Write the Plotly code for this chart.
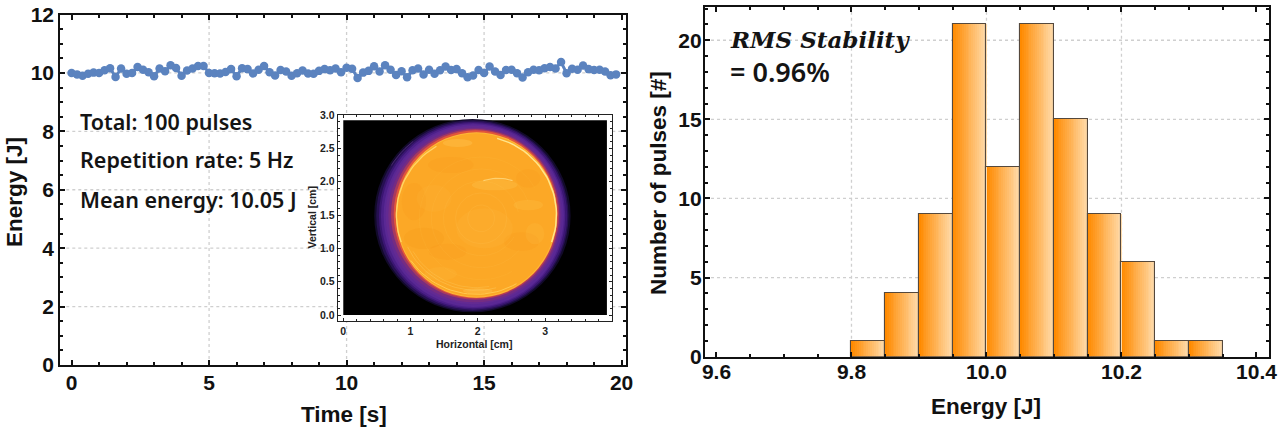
import math
import plotly.graph_objects as go

W, H = 1280, 430

# ---------- data ----------
pulse_time = [round(i * 0.2, 1) for i in range(100)]
pulse_energy = [
    10.00, 9.95, 9.90, 9.97, 10.01, 10.00, 10.09, 10.16, 9.86, 10.15,
    9.97, 10.00, 10.20, 10.11, 10.02, 9.89, 10.15, 10.06, 10.26, 10.17,
    9.90, 10.08, 10.15, 10.24, 10.24, 10.00, 9.99, 9.98, 10.03, 10.13,
    9.89, 10.16, 10.13, 9.98, 10.11, 10.24, 10.02, 9.91, 10.10, 10.05,
    9.90, 9.99, 10.08, 9.98, 9.97, 10.07, 10.13, 10.09, 10.15, 10.02,
    10.18, 10.14, 9.83, 10.01, 10.07, 10.23, 10.05, 10.26, 10.11, 9.93,
    10.06, 9.85, 10.09, 10.15, 9.95, 10.11, 9.97, 10.09, 10.22, 10.10,
    10.13, 9.99, 9.85, 9.91, 10.10, 10.00, 10.22, 10.05, 9.93, 10.10,
    10.11, 9.99, 9.84, 10.02, 10.11, 10.09, 10.16, 10.20, 10.15, 10.37,
    9.99, 10.14, 10.11, 10.25, 10.13, 10.10, 10.11, 10.05, 9.92, 9.95,
]
bin_left = [9.80, 9.85, 9.90, 9.95, 10.00, 10.05, 10.10, 10.15, 10.20, 10.25, 10.30]
bin_count = [1, 4, 9, 21, 12, 21, 15, 9, 6, 1, 1]
bin_width = 0.05

left_x_ticks = [0, 5, 10, 15, 20]
left_y_ticks = [0, 2, 4, 6, 8, 10, 12]
left_x_grid = [5, 10, 15]
left_y_grid = [2, 4, 6, 8, 10]
right_x_ticks = [9.6, 9.8, 10.0, 10.2, 10.4]
right_x_labels = ["9.6", "9.8", "10.0", "10.2", "10.4"]
right_y_ticks = [0, 5, 10, 15, 20]
right_x_grid = [9.8, 10.0, 10.2]
right_y_grid = [5, 10, 15, 20]
inset_x_ticks = [0, 1, 2, 3]
inset_y_ticks = [0.0, 0.5, 1.0, 1.5, 2.0, 2.5, 3.0]
inset_y_labels = ["0.0", "0.5", "1.0", "1.5", "2.0", "2.5", "3.0"]

notes = ["Total: 100 pulses", "Repetition rate: 5 Hz", "Mean energy: 10.05 J"]

# beam picture: (centre x, centre y, radius x, radius y, colour), painted outermost first
beam_layers = [
    (1.92, 1.49, 1.46, 1.45, "#120a2a"),
    (1.92, 1.49, 1.43, 1.43, "#261052"),
    (1.93, 1.49, 1.40, 1.41, "#3a1672"),
    (1.93, 1.49, 1.37, 1.39, "#4c2088"),
    (1.94, 1.49, 1.34, 1.37, "#5a2894"),
    (1.94, 1.50, 1.31, 1.34, "#632a92"),
    (1.95, 1.50, 1.28, 1.31, "#752c82"),
    (1.96, 1.51, 1.25, 1.28, "#a83a5e"),
    (1.97, 1.51, 1.22, 1.26, "#e2553a"),
    (1.98, 1.50, 1.20, 1.24, "#fdb838"),
    (1.98, 1.50, 1.185, 1.225, "#fca826"),
]
# mottling on the beam: (centre x, centre y, radius x, radius y, colour)
beam_blotches = [
    (1.20, 1.15, 0.30, 0.16, "rgba(245,140,20,0.16)"),
    (1.55, 0.95, 0.28, 0.12, "rgba(245,140,20,0.14)"),
    (1.05, 1.70, 0.18, 0.28, "rgba(245,140,20,0.14)"),
    (2.65, 1.10, 0.26, 0.14, "rgba(245,140,20,0.12)"),
    (1.60, 2.25, 0.34, 0.12, "rgba(245,140,20,0.12)"),
    (2.75, 2.05, 0.18, 0.14, "rgba(245,140,20,0.12)"),
    (2.25, 1.95, 0.34, 0.08, "rgba(255,210,100,0.22)"),
    (2.75, 1.65, 0.22, 0.08, "rgba(255,210,100,0.16)"),
    (1.70, 2.58, 0.22, 0.06, "rgba(255,210,100,0.28)"),
    (2.00, 0.36, 0.22, 0.04, "rgba(255,210,100,0.28)"),
    (2.10, 1.30, 0.42, 0.30, "rgba(255,200,80,0.12)"),
    (1.45, 0.62, 0.24, 0.10, "rgba(255,200,80,0.14)"),
    (2.85, 1.22, 0.14, 0.16, "rgba(255,200,80,0.16)"),
    (1.35, 1.75, 0.26, 0.20, "rgba(255,200,80,0.10)"),
]
# thin arcs on the beam: (centre x, centre y, radius, start deg, end deg, colour, width)
beam_arcs = [
    (1.98, 1.50, 1.19, -20, 75, "#ffe58a", 1.5),
    (1.98, 1.50, 1.19, 120, 200, "#ffd668", 1.3),
    (1.98, 1.50, 1.19, 215, 300, "#ffc850", 1.0),
    (1.98, 1.50, 1.13, 205, 285, "rgba(255,225,130,0.45)", 0.6),
    (1.98, 1.50, 1.09, 210, 280, "rgba(255,225,130,0.35)", 0.6),
    (2.05, 1.45, 0.20, 0, 360, "rgba(255,220,120,0.18)", 0.6),
    (2.05, 1.45, 0.38, 0, 360, "rgba(255,220,120,0.18)", 0.6),
    (2.05, 1.45, 0.56, 10, 330, "rgba(255,220,120,0.16)", 0.6),
    (2.05, 1.45, 0.74, 20, 320, "rgba(255,220,120,0.14)", 0.6),
    (2.05, 1.45, 0.92, 30, 300, "rgba(255,220,120,0.12)", 0.6),
    (2.30, 1.35, 0.70, 72, 108, "rgba(255,240,170,0.55)", 1.1),
    (1.90, 1.50, 1.40, 128, 148, "rgba(120,70,150,0.55)", 0.7),
]

# ---------- geometry helpers (pixel boxes) ----------
def xdom(a, b):
    return [a / W, b / W]

def ydom(top, bottom):
    return [1 - bottom / H, 1 - top / H]

BLACK = "#111111"
GRID = "#cfcfcf"
TICK_FONT = dict(family="Liberation Sans", size=21, color=BLACK, weight="bold")
INSET_FONT = dict(family="Liberation Sans", size=10.5, color="#222222", weight="bold")

fig = go.Figure()

# ---------- left panel ----------
fig.add_trace(go.Scatter(
    x=pulse_time, y=pulse_energy, mode="lines+markers", xaxis="x", yaxis="y",
    line=dict(color="#5b83bf", width=3),
    marker=dict(color="#5b83bf", size=8.5),
    showlegend=False,
))

# ---------- right panel: gradient strips then outlines ----------
STRIPS = 18
for s in range(STRIPS):
    f = s / (STRIPS - 1)
    r = 255
    g = round(138 + f * (219 - 138))
    b = round(0 + f * (170 - 0))
    fig.add_trace(go.Bar(
        x=[e + (s + 0.5) * bin_width / STRIPS for e in bin_left],
        y=bin_count, width=bin_width / STRIPS * 1.2,
        xaxis="x2", yaxis="y2",
        marker=dict(color=f"rgb({r},{g},{b})", line=dict(width=0)),
        showlegend=False, hoverinfo="skip",
    ))
fig.add_trace(go.Bar(
    x=[e + bin_width / 2 for e in bin_left], y=bin_count, width=bin_width,
    xaxis="x2", yaxis="y2",
    marker=dict(color="rgba(0,0,0,0)", line=dict(color="#55483c", width=1.1)),
    showlegend=False,
))

# ---------- inset arcs (these also create the inset axes) ----------
for cx, cy, rad, a0, a1, col, lw in beam_arcs:
    steps = max(int(abs(a1 - a0) / 3), 2)
    angles = [math.radians(a0 + (a1 - a0) * k / steps) for k in range(steps + 1)]
    fig.add_trace(go.Scatter(
        x=[cx + rad * math.cos(a) for a in angles],
        y=[cy + rad * math.sin(a) for a in angles],
        mode="lines", xaxis="x3", yaxis="y3",
        line=dict(color=col, width=lw), showlegend=False, hoverinfo="skip",
    ))

shapes = []
def grid_line(xref, yref, x0, x1, y0, y1):
    shapes.append(dict(type="line", xref=xref, yref=yref, x0=x0, x1=x1, y0=y0, y1=y1,
                       layer="below", line=dict(color=GRID, width=1.3, dash="dot")))

for v in left_x_grid:
    grid_line("x", "y", v, v, 0, 12)
for v in left_y_grid:
    grid_line("x", "y", -0.41, 20.15, v, v)
for v in right_x_grid:
    grid_line("x2", "y2", v, v, 0, 22.1)
for v in right_y_grid:
    grid_line("x2", "y2", 9.583, 10.419, v, v)

# inset image
shapes.append(dict(type="rect", xref="x3", yref="y3", x0=0, x1=3.92, y0=0, y1=2.92,
                   layer="below", fillcolor="#000000", line=dict(width=0)))
for cx, cy, rx, ry, col in beam_layers + beam_blotches:
    shapes.append(dict(type="circle", xref="x3", yref="y3",
                       x0=cx - rx, x1=cx + rx, y0=cy - ry, y1=cy + ry,
                       layer="below", fillcolor=col, line=dict(width=0)))

annotations = []
for text, y in zip(notes, [8.33, 7.02, 5.68]):
    annotations.append(dict(
        text=text, xref="x", yref="y", x=0.24, y=y, xanchor="left", yanchor="middle",
        showarrow=False, font=dict(family="Noto Sans", size=21.5, color="#141414", weight=600),
    ))
annotations.append(dict(
    text="<b><i>RMS Stability</i></b>", xref="x2", yref="y2", x=9.617, y=20.05,
    xanchor="left", yanchor="middle", showarrow=False,
    font=dict(family="DejaVu Serif", size=23, color="#141414"),
))
annotations.append(dict(
    text="= 0.96%", xref="x2", yref="y2", x=9.617, y=18.0,
    xanchor="left", yanchor="middle", showarrow=False,
    font=dict(family="Noto Sans", size=27, color="#141414", weight=600),
))

def axis_title(text, px, py, font, angle=0):
    annotations.append(dict(
        text=text, xref="paper", yref="paper", x=px / W, y=1 - py / H,
        xanchor="center", yanchor="middle", showarrow=False, textangle=angle, font=font,
    ))

title_font = dict(family="Liberation Sans", size=22.5, color=BLACK, weight="bold")
axis_title("Time [s]", 343.5, 414, title_font)
axis_title("Energy [J]", 14, 192, title_font, -90)
axis_title("Energy [J]", 986, 406, title_font)
axis_title("Number of pulses [#]", 658, 183, title_font, -90)
axis_title("Horizontal [cm]", 474, 344, INSET_FONT)
axis_title("Vertical [cm]", 311.5, 218, INSET_FONT, -90)

axis_common = dict(showline=True, linecolor=BLACK, linewidth=2.2, mirror="ticks",
                   ticks="inside", ticklen=5, tickwidth=2, tickcolor=BLACK,
                   showgrid=False, zeroline=False, tickfont=TICK_FONT, automargin=False)

inset_common = dict(showline=True, linecolor="#222222", linewidth=1.2, mirror="ticks",
                    ticks="inside", ticklen=3, tickwidth=1, tickcolor="#222222",
                    showgrid=False, zeroline=False, tickfont=INSET_FONT, automargin=False)

fig.update_layout(
    width=W, height=H, autosize=False,
    margin=dict(l=0, r=0, t=0, b=0, pad=0, autoexpand=False),
    paper_bgcolor="white", plot_bgcolor="white",
    barmode="overlay", bargap=0, showlegend=False,
    shapes=shapes, annotations=annotations,
    xaxis=dict(domain=xdom(60.3, 625.7), range=[-0.41, 20.15], anchor="y",
               tickvals=left_x_ticks, ticklabelstandoff=-2,
               minor=dict(dtick=1, ticks="inside", ticklen=3, tickwidth=1.5, tickcolor=BLACK),
               **axis_common),
    yaxis=dict(domain=ydom(14.5, 365), range=[0, 12], anchor="x",
               tickvals=left_y_ticks, ticklabelstandoff=0,
               minor=dict(dtick=0.5, ticks="inside", ticklen=3, tickwidth=1.5, tickcolor=BLACK),
               **axis_common),
    xaxis2=dict(domain=xdom(705, 1269.3), range=[9.583, 10.419], anchor="y2",
                tickvals=right_x_ticks, ticktext=right_x_labels, ticklabelstandoff=-5,
                minor=dict(dtick=0.05, tick0=9.6, ticks="inside", ticklen=3, tickwidth=1.5, tickcolor=BLACK),
                **axis_common),
    yaxis2=dict(domain=ydom(7, 356.7), range=[0, 22.1], anchor="x2",
                tickvals=right_y_ticks, ticklabelstandoff=-3,
                minor=dict(dtick=1, ticks="inside", ticklen=3, tickwidth=1.5, tickcolor=BLACK),
                **axis_common),
    xaxis3=dict(domain=xdom(337.7, 612.3), range=[-0.083, 4.0], anchor="y3",
                tickvals=inset_x_ticks, ticklabelstandoff=0,
                minor=dict(dtick=0.2, ticks="inside", ticklen=2, tickwidth=0.8, tickcolor="#222222"),
                **inset_common),
    yaxis3=dict(domain=ydom(115, 321), range=[-0.09, 3.0], anchor="x3",
                tickvals=inset_y_ticks, ticktext=inset_y_labels, ticklabelstandoff=0,
                minor=dict(dtick=0.1, ticks="inside", ticklen=2, tickwidth=0.8, tickcolor="#222222"),
                **inset_common),
)

fig.write_html("out.html", config={"displayModeBar": False},
               post_script="document.body.style.margin='0';")
